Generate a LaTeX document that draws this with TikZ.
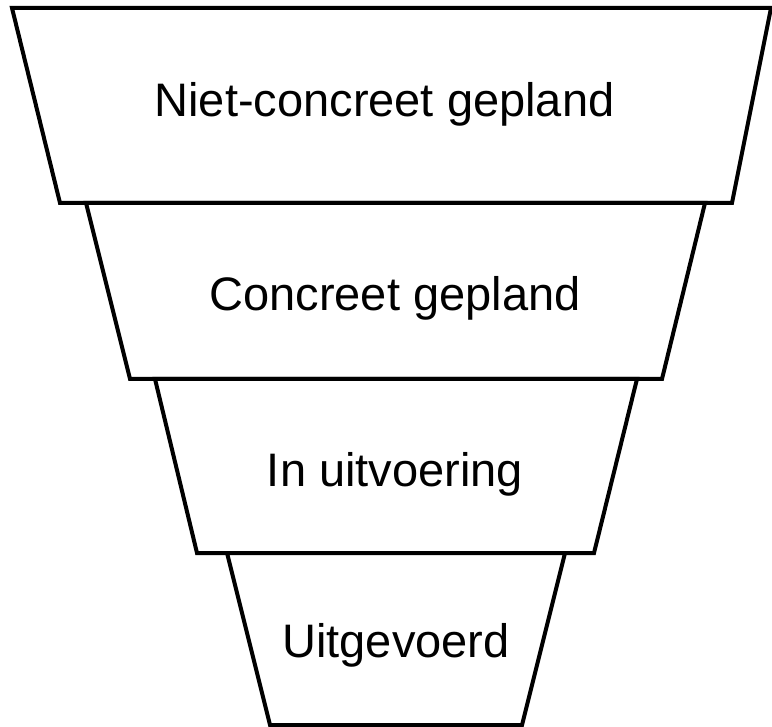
\documentclass[tikz,border=0pt]{standalone}
\usepackage{fontspec}
\setmainfont{Liberation Sans}
\begin{document}
\begin{tikzpicture}[x=1pt,y=-1pt,
  stage/.style={draw=black,line width=4pt,line join=miter,fill=white},
  label/.style={font=\fontsize{47}{56}\selectfont,anchor=base,inner sep=0pt}]
\useasboundingbox (0,0) rectangle (772,727);
\draw[stage] (12,8) -- (771,8) -- (732,203) -- (60,203) -- cycle;
\draw[stage] (86,203) -- (705,203) -- (662,379) -- (130,379) -- cycle;
\draw[stage] (155,379) -- (637,379) -- (594,553) -- (197,553) -- cycle;
\draw[stage] (227,553) -- (565,553) -- (522,725) -- (270,725) -- cycle;
\node[label] (s1) at (384.5,116.7) {Niet-concreet gepland};
\node[label] (s2) at (395,311) {Concreet gepland};
\node[label] (s3) at (395,487) {In uitvoering};
\node[label] (s4) at (396,657) {Uitgevoerd};
\end{tikzpicture}
\end{document}
